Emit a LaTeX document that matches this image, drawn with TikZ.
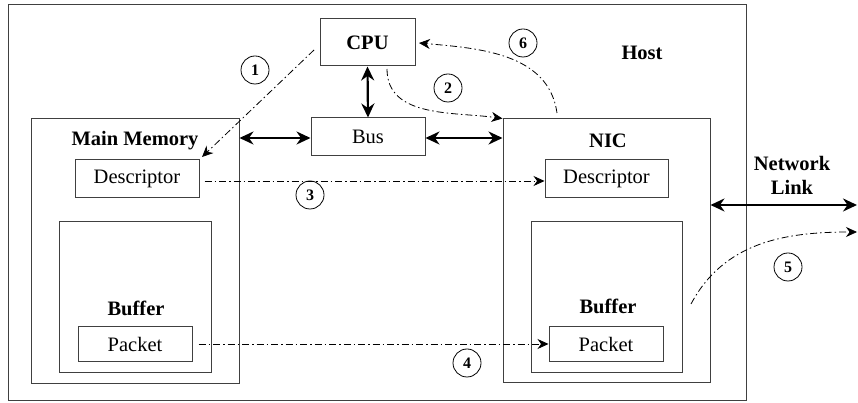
\documentclass[tikz,border=0pt]{standalone}
\usepackage{fontspec}
\setmainfont{Liberation Serif}
\usetikzlibrary{arrows.meta,calc}
\begin{document}
\begin{tikzpicture}[x=1pt,y=1pt,
  box/.style={draw=black!75,line width=1pt,inner sep=0pt},
  lbl/.style={font=\fontsize{20.5}{23}\selectfont},
  blbl/.style={font=\fontsize{20.5}{24}\selectfont\bfseries},
  bus/.style={line width=2.2pt,{Stealth[length=14pt,width=13pt]}-{Stealth[length=14pt,width=13pt]}},
  flow/.style={line width=0.8pt,dash pattern=on 7pt off 3pt on 1.5pt off 3pt,-{Stealth[length=11pt,width=10pt]}},
  num/.style={circle,draw=black,line width=0.8pt,minimum size=28pt,inner sep=0pt,font=\fontsize{16}{17}\selectfont\bfseries}]
\useasboundingbox (0,0) rectangle (858,403);

% host enclosure
\node[box,minimum width=738,minimum height=396] (host) at (377,200) {};
\node[blbl] (hostlbl) at (642,350) {Host};

% cpu and bus
\node[box,minimum width=95,minimum height=47,blbl] (cpu) at (367.5,360.5) {CPU};
\node[box,minimum width=114,minimum height=38,lbl] (bus) at (368,266) {Bus};

% main memory side
\node[box,minimum width=208,minimum height=265] (mem) at (135,151.5) {};
\node[blbl] (memlbl) at (135,262) {Main Memory};
\node[box,minimum width=124,minimum height=38,lbl] (descL) at (137,224) {Descriptor};
\node[box,minimum width=152,minimum height=151] (bufL) at (135,105.5) {};
\node[blbl] (bufLlbl) at (136,95) {Buffer};
\node[box,minimum width=114,minimum height=35,lbl] (pktL) at (135,59) {Packet};

% network interface side
\node[box,minimum width=207,minimum height=264] (nic) at (606.5,152) {};
\node[blbl] (niclbl) at (608,262) {NIC};
\node[box,minimum width=123,minimum height=38,lbl] (descR) at (606.5,224) {Descriptor};
\node[box,minimum width=151,minimum height=151] (bufR) at (606.5,105.5) {};
\node[blbl] (bufRlbl) at (608,97) {Buffer};
\node[box,minimum width=114,minimum height=35,lbl] (pktR) at (606,59) {Packet};

% network link
\node[blbl,align=center] (netlbl) at (792,228) {Network\\Link};
\coordinate (linkend) at (857,198);
\coordinate (linkstart) at (nic.east |- linkend);

% solid interconnects
\draw[bus] (cpu.south) -- (bus.north);
\draw[bus] (mem.east |- 0,265) -- (bus.west |- 0,265);
\draw[bus] (bus.east |- 0,265) -- (nic.west |- 0,265);
\draw[bus] (linkstart) -- (linkend);

% step coordinates
\coordinate (s1) at (314,353);
\coordinate (e1) at (202,246);
\coordinate (s2) at (387,334);
\coordinate (e2) at (nic.north west);
\coordinate (s3) at ($(descL.east)+(5,-2)$);
\coordinate (e3) at (descR.west |- s3);
\coordinate (s4) at ($(pktL.east)+(6,0)$);
\coordinate (s5) at (691,99);
\coordinate (e5) at (857,171);
\coordinate (s6) at (557,290);
\coordinate (e6) at (419,360);

% dash-dot flows
\draw[flow] (s1) -- (e1);
\draw[flow] (s2) to[out=-90,in=172] (e2);
\draw[flow] (s3) -- (e3);
\draw[flow] (s4) -- (pktR.west);
\draw[flow] (s5) to[out=62,in=180] (e5);
\draw[flow] (s6) to[out=98,in=-5] (e6);

% step numbers
\node[num] (n1) at (255,333) {1};
\node[num] (n2) at (448,315) {2};
\node[num] (n3) at (310,208) {3};
\node[num] (n4) at (467,40) {4};
\node[num] (n5) at (788,136) {5};
\node[num] (n6) at (523,360) {6};
\end{tikzpicture}
\end{document}
